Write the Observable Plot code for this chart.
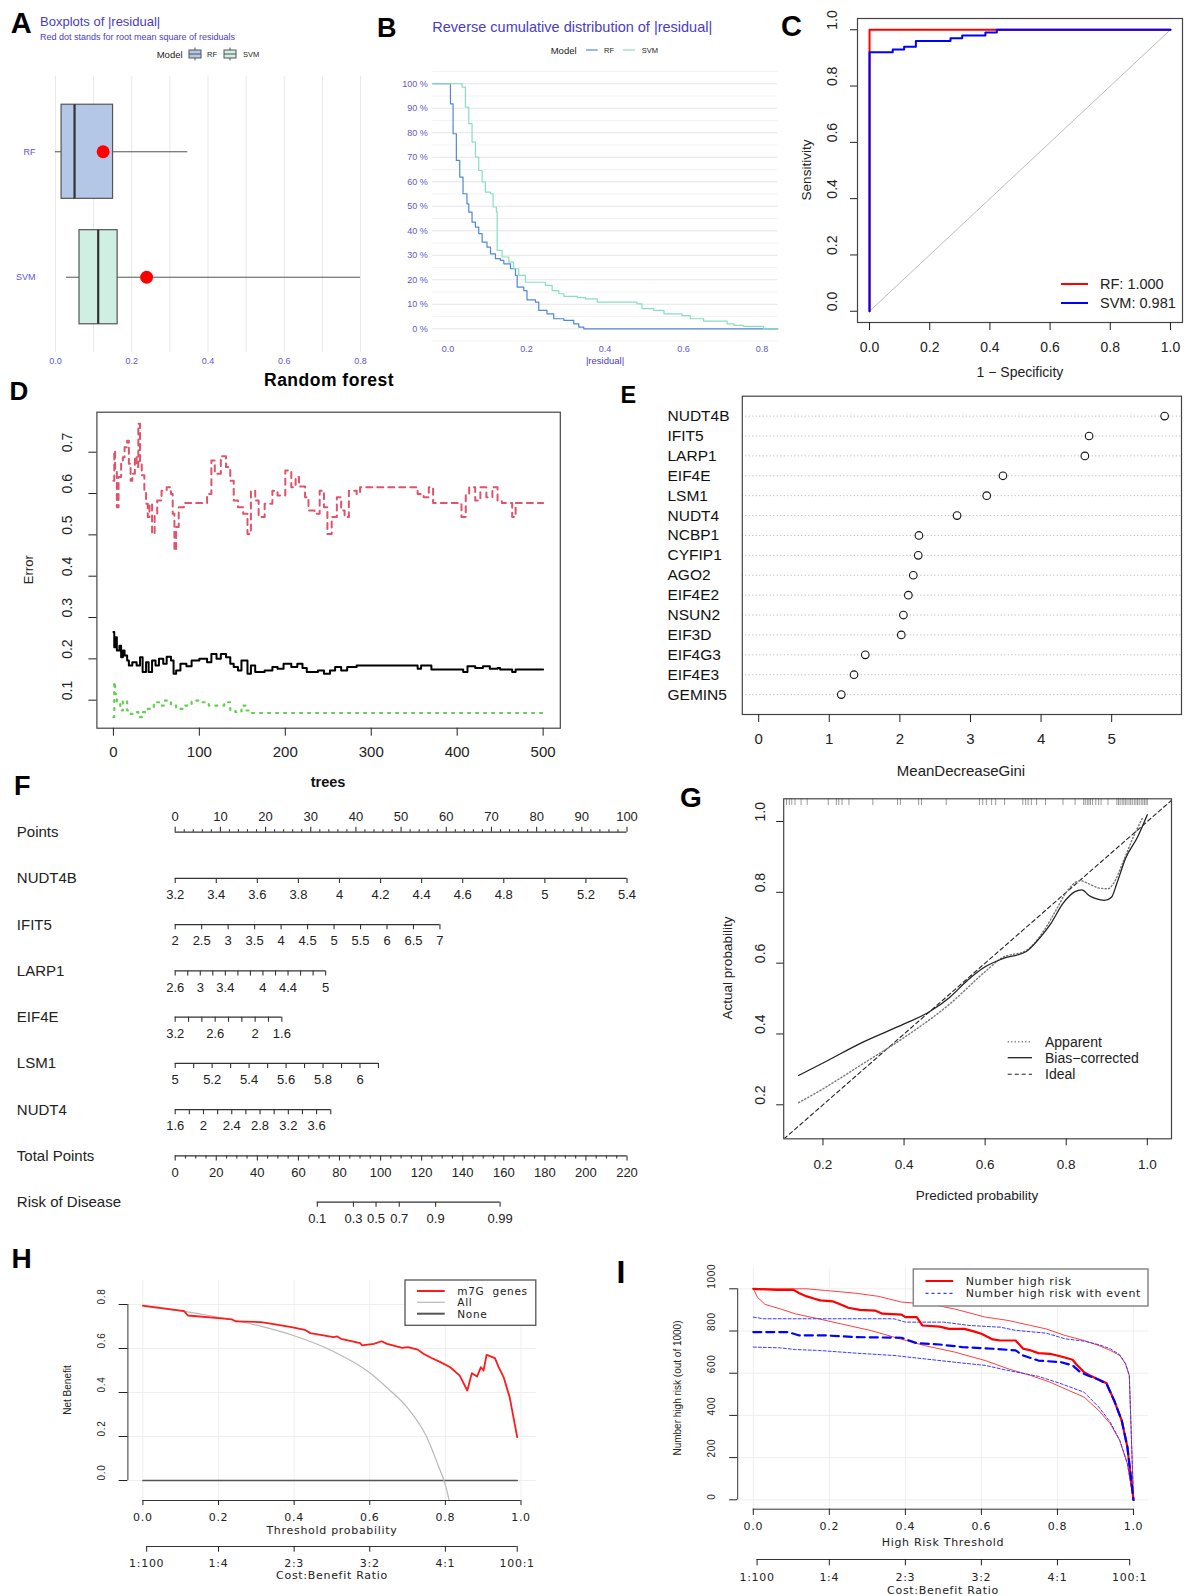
<!DOCTYPE html>
<html><head><meta charset="utf-8">
<script src="https://cdn.jsdelivr.net/npm/d3@7"></script>
<script src="https://cdn.jsdelivr.net/npm/@observablehq/plot@0.6"></script>
<style>
body{margin:0;background:#fff;}
#root{position:relative;width:1185px;height:1596px;overflow:hidden;background:#fff;}
</style>
</head><body><div id="root"></div>
<script>
// ---------------- DATA ----------------
// A: boxplots of |residual|
const boxModels = ["RF", "SVM"];
const boxWhiskerLo = [0.0, 0.029];
const boxQ1 = [0.016, 0.063];
const boxMedian = [0.050, 0.112];
const boxQ3 = [0.151, 0.163];
const boxWhiskerHi = [0.347, 0.800];
const boxRMSE = [0.125, 0.239];
const boxFill = ["#b4c7e7", "#cfefe2"];
const residTicks = [0, 0.2, 0.4, 0.6, 0.8];
const residGrid = [0, 0.1, 0.2, 0.3, 0.4, 0.5, 0.6, 0.7, 0.8];

// B: reverse cumulative distribution
const rfResid = [-0.039, 0, 0.006, 0.0127, 0.021, 0.0297, 0.038, 0.048, 0.0527, 0.061, 0.0696, 0.078, 0.0867, 0.099, 0.108, 0.1206, 0.133, 0.142, 0.159, 0.1716, 0.176, 0.1928, 0.201, 0.2225, 0.231, 0.252, 0.269, 0.295, 0.32, 0.333, 0.3457, 0.84];
const rfPct = [100, 100, 91.8, 79.6, 68.7, 61.9, 55.1, 51, 47.6, 43.5, 41.5, 38.8, 35.4, 33.3, 30.6, 28.6, 27.9, 26.5, 24.5, 21.8, 17, 15.6, 11.8, 10.9, 7.5, 6.1, 4.1, 3.4, 2.0, 0.7, 0, 0];
const svmResid = [-0.039, 0.032, 0.0357, 0.044, 0.0527, 0.061, 0.0696, 0.078, 0.0867, 0.095, 0.108, 0.1147, 0.123, 0.125, 0.1376, 0.1546, 0.167, 0.18, 0.197, 0.235, 0.248, 0.265, 0.282, 0.295, 0.329, 0.35, 0.38, 0.456, 0.4815, 0.494, 0.524, 0.55, 0.596, 0.617, 0.651, 0.711, 0.728, 0.753, 0.804, 0.84];
const svmPct = [100, 100, 98.6, 90.5, 83.7, 76.2, 70.1, 64.6, 59.9, 55.8, 55.1, 49.7, 47.6, 32, 29.3, 27.2, 24.5, 21.8, 19, 19, 17.7, 15.6, 14.3, 13.2, 12.7, 12.2, 10.9, 10.9, 10.2, 8.2, 7.5, 6.1, 5.4, 4.1, 3.1, 2.0, 1.4, 1.0, 0, 0];
const pctMajor = [0, 10, 20, 30, 40, 50, 60, 70, 80, 90, 100];
const pctMinor = [-5, 5, 15, 25, 35, 45, 55, 65, 75, 85, 95, 105];

// C: ROC
const rocRFfpr = [0, 0, 1];
const rocRFtpr = [0, 1, 1];
const rocSVMfpr = [0, 0, 0.077, 0.115, 0.154, 0.269, 0.308, 0.385, 0.423, 1];
const rocSVMtpr = [0, 0.92, 0.93, 0.94, 0.96, 0.97, 0.98, 0.99, 1, 1];
const unitTicks = [0, 0.2, 0.4, 0.6, 0.8, 1.0];
const rocLegend = ["RF: 1.000", "SVM: 0.981"];

// D: random forest error
const oobTrees = [0,1,2,4,7,9,11,13,16,18,22,27,31,34,38,41,45,49,53,58,62,67,70,73,78,85,91,100,109,114,120,125,131,136,140,145,149,156,160,165,176,185,191,198,207,214,220,225,238,245,252,258,265,272,283,350,354,358,370,405,407,412,421,430,438,447,450,461,464,468,500];
const oobErr = [0.265,0.228,0.252,0.22,0.232,0.204,0.22,0.208,0.196,0.184,0.192,0.184,0.204,0.168,0.192,0.168,0.196,0.184,0.2,0.188,0.205,0.196,0.164,0.172,0.188,0.182,0.196,0.2,0.192,0.212,0.2,0.212,0.204,0.188,0.18,0.172,0.196,0.164,0.184,0.168,0.172,0.18,0.176,0.188,0.18,0.188,0.178,0.168,0.172,0.164,0.172,0.18,0.172,0.18,0.184,0.184,0.176,0.184,0.174,0.174,0.168,0.182,0.178,0.182,0.176,0.178,0.174,0.174,0.168,0.174,0.174];
const c1Trees = [0,1,2,4,6,9,11,13,16,18,20,22,25,27,29,31,33,36,38,40,42,45,48,51,56,62,67,69,71,73,76,82,100,109,114,118,125,131,136,140,145,151,156,160,165,169,176,185,191,200,207,212,216,223,227,234,240,245,249,254,260,265,269,274,283,287,350,354,361,367,372,403,405,410,414,421,427,434,441,447,452,461,464,468,500];
const c1Err = [0.631,0.704,0.656,0.567,0.64,0.68,0.688,0.712,0.728,0.672,0.631,0.648,0.69,0.664,0.769,0.672,0.644,0.607,0.575,0.543,0.575,0.502,0.551,0.583,0.607,0.615,0.599,0.551,0.462,0.519,0.567,0.577,0.577,0.599,0.68,0.648,0.69,0.664,0.631,0.583,0.567,0.551,0.502,0.607,0.583,0.543,0.575,0.607,0.595,0.656,0.615,0.64,0.617,0.591,0.559,0.551,0.607,0.567,0.502,0.543,0.591,0.559,0.543,0.607,0.599,0.615,0.615,0.599,0.591,0.615,0.577,0.577,0.543,0.599,0.615,0.583,0.615,0.591,0.615,0.583,0.577,0.577,0.543,0.577,0.577];
const c2Trees = [0,1,2,4,8,11,16,20,25,29,33,40,47,53,60,67,73,82,91,100,111,122,129,136,142,149,154,158,500];
const c2Err = [0.059,0.144,0.115,0.091,0.075,0.099,0.075,0.067,0.071,0.059,0.071,0.079,0.095,0.087,0.099,0.087,0.079,0.087,0.099,0.095,0.087,0.087,0.095,0.075,0.071,0.087,0.075,0.069,0.069];
const treeTicks = [0, 100, 200, 300, 400, 500];
const errTicks = [0.1, 0.2, 0.3, 0.4, 0.5, 0.6, 0.7];

// E: MeanDecreaseGini
const genes = ["NUDT4B","IFIT5","LARP1","EIF4E","LSM1","NUDT4","NCBP1","CYFIP1","AGO2","EIF4E2","NSUN2","EIF3D","EIF4G3","EIF4E3","GEMIN5"];
const gini = [5.75, 4.68, 4.62, 3.46, 3.23, 2.81, 2.27, 2.26, 2.19, 2.12, 2.05, 2.02, 1.51, 1.35, 1.17];
const giniTicks = [0, 1, 2, 3, 4, 5];

// F: nomogram
const nomoRows = ["Points","NUDT4B","IFIT5","LARP1","EIF4E","LSM1","NUDT4","Total Points","Risk of Disease"];
const pointsTicks = d3.range(0, 101, 2);
const pointsLabels = [0,10,20,30,40,50,60,70,80,90,100];
const nudt4bTicks = [3.2,3.4,3.6,3.8,4,4.2,4.4,4.6,4.8,5,5.2,5.4];
const nudt4bLabels = [3.2,3.4,3.6,3.8,4,4.2,4.4,4.6,4.8,5,5.2,5.4];
const ifit5Ticks = [2,2.5,3,3.5,4,4.5,5,5.5,6,6.5,7];
const ifit5Labels = [2,2.5,3,3.5,4,4.5,5,5.5,6,6.5,7];
const larp1Ticks = [2.6,2.8,3,3.2,3.4,3.6,3.8,4,4.2,4.4,4.6,4.8,5];
const larp1Labels = [2.6,3,3.4,4,4.4,5];
const eif4eTicks = [3.2,3,2.8,2.6,2.4,2.2,2,1.8,1.6];
const eif4eLabels = [3.2,2.6,2,1.6];
const lsm1Ticks = [5,5.1,5.2,5.3,5.4,5.5,5.6,5.7,5.8,5.9,6,6.1];
const lsm1Labels = [5,5.2,5.4,5.6,5.8,6];
const nudt4Ticks = [1.6,1.8,2,2.2,2.4,2.6,2.8,3,3.2,3.4,3.6,3.8];
const nudt4Labels = [1.6,2,2.4,2.8,3.2,3.6];
// value at 0 points, a reference value, and the points at that reference value
const nomoV0 = [3.2, 2, 2.6, 3.2, 5, 1.6];
const nomoV1 = [5.4, 7, 5, 1.6, 6, 3.6];
const nomoP1 = [100, 58.6, 33.3, 23.6, 40.9, 31.3];
const totalTicks = d3.range(0, 221, 5);
const totalLabels = [0,20,40,60,80,100,120,140,160,180,200,220];
const totalMax = 220;
const riskProbs = ["0.1","0.3","0.5","0.7","0.9","0.99"];
const riskTotals = [69.2, 86.8, 97.8, 109.1, 126.8, 158.2];

// G: calibration
const calBiasX = [0.14,0.2,0.2986,0.4015,0.4615,0.513,0.556,0.599,0.6416,0.7016,0.736,0.7616,0.7916,0.8216,0.8389,0.856,0.873,0.8945,0.9117,0.9245,0.946,0.976,1.0];
const calBiasY = [0.283,0.318,0.377,0.429,0.462,0.504,0.551,0.589,0.612,0.633,0.673,0.711,0.768,0.802,0.807,0.791,0.782,0.777,0.786,0.824,0.895,0.956,1.019];
const calAppX = [0.14,0.2,0.2986,0.4015,0.513,0.599,0.6416,0.7016,0.745,0.7745,0.8,0.8345,0.856,0.8817,0.903,0.916,0.9417,0.967,0.989];
const calAppY = [0.206,0.245,0.316,0.391,0.485,0.575,0.615,0.636,0.692,0.749,0.80,0.833,0.824,0.812,0.81,0.824,0.89,0.96,1.012];
const calRug = [0.110,0.117,0.123,0.131,0.146,0.161,0.213,0.233,0.239,0.247,0.264,0.323,0.384,0.391,0.436,0.443,0.504,0.586,0.594,0.603,0.616,0.626,0.648,0.693,0.700,0.706,0.714,0.727,0.749,0.792,0.822,0.843,0.847,0.852,0.856,0.860,0.865,0.873,0.880,0.886,0.903,0.925,0.929,0.933,0.938,0.942,0.946,0.950,0.955,0.959,0.963,0.968,0.972,0.976,0.980,0.985,0.989,0.993,0.997,1.0];
const probTicks = [0.2, 0.4, 0.6, 0.8, 1.0];
const calLegend = ["Apparent", "Bias\u2212corrected", "Ideal"];

// H: decision curve
const m7gT = [0,0.109,0.119,0.2,0.236,0.246,0.312,0.342,0.393,0.428,0.443,0.504,0.514,0.524,0.575,0.58,0.595,0.611,0.631,0.646,0.686,0.701,0.727,0.742,0.762,0.787,0.813,0.838,0.858,0.870,0.884,0.894,0.901,0.909,0.931,0.941,0.954,0.970,0.99];
const m7gNB = [0.795,0.770,0.750,0.738,0.732,0.723,0.720,0.712,0.697,0.685,0.670,0.652,0.655,0.644,0.624,0.614,0.618,0.621,0.633,0.621,0.603,0.606,0.595,0.576,0.558,0.538,0.515,0.477,0.409,0.488,0.473,0.515,0.5,0.571,0.556,0.515,0.470,0.379,0.197];
const allT = [0,0.1,0.2,0.3,0.4,0.5,0.6,0.65,0.7,0.75,0.78,0.8,0.81];
const allNB = [0.793,0.771,0.742,0.706,0.658,0.590,0.490,0.415,0.33,0.2,0.073,-0.02,-0.09];
const noneT = [0, 0.99];
const noneNB = [0, 0];
const thrTicks = [0, 0.2, 0.4, 0.6, 0.8, 1.0];
const nbTicks = [0, 0.2, 0.4, 0.6, 0.8];
const cbT = [0.01, 0.2, 0.4, 0.6, 0.8, 0.99];
const cbLab = ["1:100", "1:4", "2:3", "3:2", "4:1", "100:1"];
const dcaLegend = ["m7G  genes", "All", "None"];

// I: clinical impact
const nhrT = [0,0.061,0.106,0.121,0.141,0.161,0.176,0.21,0.23,0.25,0.28,0.32,0.34,0.39,0.4,0.43,0.445,0.49,0.515,0.555,0.58,0.6,0.63,0.65,0.69,0.71,0.73,0.75,0.78,0.81,0.84,0.85,0.87,0.89,0.909,0.929,0.949,0.969,0.984,1.0];
const nhr = [1000,995,995,979,964,953,945,940,926,910,900,897,882,878,866,866,826,821,810,810,798,787,760,755,755,716,708,695,692,679,664,641,605,585,569,553,471,376,250,0];
const nhrHiT = [0,0.141,0.19,0.27,0.33,0.39,0.47,0.53,0.61,0.67,0.73,0.77,0.82,0.87,0.909,0.939,0.964,0.979,0.989,1.0];
const nhrHi = [1000,1000,992,979,964,937,926,904,866,850,826,810,779,755,731,708,684,645,589,0];
const nhrLoT = [0,0.011,0.031,0.071,0.111,0.171,0.23,0.31,0.37,0.45,0.53,0.61,0.67,0.73,0.78,0.83,0.87,0.909,0.939,0.964,0.984,1.0];
const nhrLo = [1000,960,926,905,881,858,834,802,771,731,700,660,621,589,558,518,487,423,360,281,171,0];
const evT = [0,0.091,0.121,0.19,0.27,0.39,0.43,0.49,0.55,0.63,0.69,0.71,0.75,0.81,0.84,0.86,0.88,0.909,0.929,0.949,0.969,0.984,1.0];
const ev = [795,795,779,779,771,768,742,736,724,716,708,684,660,652,637,605,589,569,550,471,376,250,0];
const evHiT = [0,0.026,0.37,0.4,0.5,0.57,0.65,0.69,0.77,0.82,0.87,0.909,0.939,0.964,0.979,0.989,1.0];
const evHi = [866,858,858,842,842,826,818,803,790,763,752,735,716,687,645,589,0];
const evLoT = [0,0.071,0.111,0.171,0.27,0.37,0.45,0.53,0.61,0.67,0.75,0.81,0.87,0.909,0.939,0.964,0.984,1.0];
const evLo = [724,720,712,708,695,684,668,652,637,613,585,550,510,439,368,281,171,0];
const nTicks = [0, 200, 400, 600, 800, 1000];
const cicLegend = ["Number high risk", "Number high risk with event"];

// ---------------- HELPERS ----------------
const FONT = "'Liberation Sans', Arial, Helvetica, sans-serif";
const WIDE = "'DejaVu Sans', Verdana, sans-serif";
const PURPLE = "#4a3dc4", PURPLE_T = "#6356cf";
const RF_LINE = "#5288d4", SVM_LINE = "#86e0c0";
const root = document.getElementById("root");
const zipXY = (xs, ys) => xs.map((x, i) => ({x, y: ys[i]}));
const f1 = d3.format(".1f");
const fInt = d3.format("d");
function place(svg, left, top) {
  svg.style.position = "absolute";
  svg.style.left = left + "px";
  svg.style.top = top + "px";
  svg.style.overflow = "visible";
  svg.style.background = "transparent";
  root.appendChild(svg);
  return svg;
}

// ---------------- PANEL A ----------------
const A_rows = boxModels.map((m, i) => ({model: m, idx: i + 1, lo: boxWhiskerLo[i], q1: boxQ1[i], med: boxMedian[i], q3: boxQ3[i], hi: boxWhiskerHi[i], rmse: boxRMSE[i], fill: boxFill[i]}));
const boxHalf = 0.375;
place(Plot.plot({
  width: 380, height: 320, marginLeft: 40, marginRight: 5, marginTop: 16, marginBottom: 28,
  style: {fontFamily: FONT, fontSize: "9px", color: PURPLE_T},
  color: {type: "identity"},
  x: {domain: [-0.0393, 0.8393]},
  y: {domain: [0.4, 2.6], reverse: true},
  marks: [
    Plot.ruleX(residGrid, {stroke: "#e9e9e9", strokeWidth: 1}),
    Plot.ruleY(A_rows, {y: "idx", x1: "lo", x2: "hi", stroke: "#555", strokeWidth: 1}),
    Plot.rect(A_rows, {x1: "q1", x2: "q3", y1: d => d.idx - boxHalf, y2: d => d.idx + boxHalf, fill: d => d.fill, stroke: "#555", strokeWidth: 1.2}),
    Plot.ruleX(A_rows, {x: "med", y1: d => d.idx - boxHalf, y2: d => d.idx + boxHalf, stroke: "#333", strokeWidth: 2.2}),
    Plot.dot(A_rows, {x: "rmse", y: "idx", r: 6.5, fill: "#ff0000"}),
    Plot.axisX({ticks: residTicks, tickSize: 0, tickPadding: 5, tickFormat: f1, label: null}),
    Plot.axisY({ticks: [1, 2], tickSize: 0, tickPadding: 5, tickFormat: i => boxModels[i - 1], label: null})
  ]
}), 0, 60);

// ---------------- PANEL B ----------------
place(Plot.plot({
  width: 415, height: 310, marginLeft: 62.3, marginRight: 7.7, marginTop: 11, marginBottom: 30,
  style: {fontFamily: FONT, fontSize: "9px", color: PURPLE_T},
  x: {domain: [-0.039, 0.84]},
  y: {domain: [-4.78, 105]},
  marks: [
    Plot.ruleY(pctMinor, {stroke: "#f2f2f2"}),
    Plot.ruleY(pctMajor, {stroke: "#e5e5e5"}),
    Plot.line(zipXY(rfResid, rfPct), {x: "x", y: "y", stroke: RF_LINE, strokeWidth: 1.2, curve: "step-after"}),
    Plot.line(zipXY(svmResid, svmPct), {x: "x", y: "y", stroke: SVM_LINE, strokeWidth: 1.2, curve: "step-after"}),
    Plot.axisX({ticks: residTicks, tickSize: 0, tickPadding: 4.8, tickFormat: f1, label: null}),
    Plot.axisY({ticks: pctMajor, tickSize: 0, tickPadding: 5, tickFormat: d => d + " %", label: null})
  ]
}), 370, 60);

// ---------------- PANEL C ----------------
place(Plot.plot({
  width: 415, height: 380, marginLeft: 87, marginRight: 3, marginTop: 18, marginBottom: 58,
  style: {fontFamily: FONT, fontSize: "14px", color: "#222"},
  x: {domain: [-0.04, 1.04]}, y: {domain: [-0.04, 1.04]},
  marks: [
    Plot.line([0, 1], {x: d => d, y: d => d, stroke: "#bdbdbd", strokeWidth: 1}),
    Plot.line(zipXY(rocRFfpr, rocRFtpr), {x: "x", y: "y", stroke: "#ff0000", strokeWidth: 2}),
    Plot.line(zipXY(rocSVMfpr, rocSVMtpr), {x: "x", y: "y", stroke: "#0000ff", strokeWidth: 2, curve: "step-after"}),
    Plot.frame({stroke: "#444", strokeWidth: 1.2}),
    Plot.axisX({ticks: unitTicks, tickSize: 8, tickPadding: 12, tickFormat: f1, label: null}),
    Plot.axisY({ticks: unitTicks, tickSize: 7, tickFormat: () => "", label: null}),
    Plot.text(unitTicks, {y: d => d, text: d => f1(d), frameAnchor: "left", dx: -25.3, rotate: -90, fontSize: 14, fill: "#222"})
  ]
}), 770, 0);

// ---------------- PANEL D ----------------
place(Plot.plot({
  width: 600, height: 400, marginLeft: 96.4, marginRight: 40.2, marginTop: 31.7, marginBottom: 52.3,
  style: {fontFamily: FONT, fontSize: "15px", color: "#222"},
  x: {domain: [-19.2, 520]}, y: {domain: [0.0322, 0.7968]},
  marks: [
    Plot.line(zipXY(c2Trees, c2Err), {x: "x", y: "y", stroke: "#61D04F", strokeWidth: 2.2, strokeDasharray: "2,6", curve: "step-after"}),
    Plot.line(zipXY(c1Trees, c1Err), {x: "x", y: "y", stroke: "#DF536B", strokeWidth: 2, strokeDasharray: "6,5", curve: "step-after"}),
    Plot.line(zipXY(oobTrees, oobErr), {x: "x", y: "y", stroke: "#000", strokeWidth: 2, curve: "step-after"}),
    Plot.frame({stroke: "#444", strokeWidth: 1.2}),
    Plot.axisX({ticks: treeTicks, tickSize: 8, tickPadding: 9.9, tickFormat: fInt, label: null}),
    Plot.axisY({ticks: errTicks, tickSize: 8, tickFormat: () => "", label: null}),
    Plot.text(errTicks, {y: d => d, text: d => f1(d), frameAnchor: "left", dx: -29.4, rotate: -90, fontSize: 14, fill: "#222"})
  ]
}), 0, 380);

// ---------------- PANEL E ----------------
const E_rows = genes.map((g, i) => ({gene: g, gini: gini[i], rank: genes.length - i}));
place(Plot.plot({
  width: 585, height: 400, marginLeft: 141.8, marginRight: 4, marginTop: 15.7, marginBottom: 66,
  style: {fontFamily: FONT, fontSize: "15px", color: "#222"},
  x: {domain: [-0.232, 5.989]}, y: {domain: [0, 16], axis: null},
  marks: [
    Plot.ruleY(E_rows, {y: "rank", stroke: "#b0b0b0", strokeDasharray: "1,2.5"}),
    Plot.dot(E_rows, {x: "gini", y: "rank", r: 3.8, stroke: "#111", fill: "white", strokeWidth: 1.1}),
    Plot.text(E_rows, {y: "rank", text: "gene", frameAnchor: "left", dx: -74.8, textAnchor: "start", fontSize: 15.5, fill: "#111"}),
    Plot.frame({stroke: "#444", strokeWidth: 1.2}),
    Plot.axisX({ticks: giniTicks, tickSize: 8, tickPadding: 10.6, tickFormat: fInt, label: null})
  ]
}), 600, 380);

// ---------------- PANEL F (nomogram) ----------------
const rowPx = 46.25;
const F_lines = [], F_ticks = [], F_below = [], F_above = [];
function nomoRow(row, ticks, labels, toPts, dir, majorLen, minorLen) {
  const pos = ticks.map(toPts);
  F_lines.push({row, a: d3.min(pos), b: d3.max(pos)});
  const labSet = new Set(labels.map(String));
  ticks.forEach(v => F_ticks.push({row, pos: toPts(v), len: dir * (labSet.has(String(v)) ? majorLen : minorLen) / rowPx}));
  labels.forEach(v => (dir < 0 ? F_above : F_below).push({row, pos: toPts(v), text: String(v)}));
}
nomoRow(0, pointsTicks, pointsLabels, v => v, -1, 5, 2.5);
const varTicks = [nudt4bTicks, ifit5Ticks, larp1Ticks, eif4eTicks, lsm1Ticks, nudt4Ticks];
const varLabels = [nudt4bLabels, ifit5Labels, larp1Labels, eif4eLabels, lsm1Labels, nudt4Labels];
varTicks.forEach((tk, k) => {
  const toPts = v => (v - nomoV0[k]) / (nomoV1[k] - nomoV0[k]) * nomoP1[k];
  nomoRow(k + 1, tk, varLabels[k], toPts, 1, 5, 5);
});
nomoRow(7, totalTicks, totalLabels, v => v / totalMax * 100, 1, 5, 3);
// risk row: ticks at the total points of each probability
F_lines.push({row: 8, a: riskTotals[0] / totalMax * 100, b: riskTotals[riskTotals.length - 1] / totalMax * 100});
riskTotals.forEach((t, i) => {
  F_ticks.push({row: 8, pos: t / totalMax * 100, len: 5 / rowPx});
  F_below.push({row: 8, pos: t / totalMax * 100, text: riskProbs[i]});
});
place(Plot.plot({
  width: 640, height: 440, marginLeft: 174.7, marginRight: 13.5, marginTop: 51.7, marginBottom: 18.3,
  style: {fontFamily: FONT, fontSize: "13px", color: "#222"},
  x: {domain: [0, 100], axis: null}, y: {domain: [0, 8], reverse: true, axis: null},
  marks: [
    Plot.ruleY(F_lines, {y: "row", x1: "a", x2: "b", stroke: "#333", strokeWidth: 1.2}),
    Plot.ruleX(F_ticks, {x: "pos", y1: "row", y2: d => d.row + d.len, stroke: "#333", strokeWidth: 1.1}),
    Plot.text(F_above, {x: "pos", y: "row", text: "text", dy: -15.7, fontSize: 13, fill: "#222"}),
    Plot.text(F_below, {x: "pos", y: "row", text: "text", dy: 16.5, fontSize: 13, fill: "#222"}),
    Plot.text(nomoRows.map((n, i) => ({n, i})), {y: "i", text: "n", frameAnchor: "left", dx: -158.4, textAnchor: "start", fontSize: 15, fill: "#222"})
  ]
}), 0, 780);

// ---------------- PANEL G ----------------
const yDomG = [0.104, 1.0641];
place(Plot.plot({
  width: 545, height: 430, marginLeft: 143.2, marginRight: 14, marginTop: 28.3, marginBottom: 61.7,
  style: {fontFamily: FONT, fontSize: "13.5px", color: "#222"},
  x: {domain: [0.1031, 1.0597]}, y: {domain: yDomG},
  marks: [
    Plot.line([0, 1.2], {x: d => d, y: d => d, stroke: "#222", strokeWidth: 1.1, strokeDasharray: "4,3", clip: true}),
    Plot.line(zipXY(calAppX, calAppY), {x: "x", y: "y", stroke: "#777", strokeWidth: 1.4, strokeDasharray: "1.2,2.3", curve: "monotone-x"}),
    Plot.line(zipXY(calBiasX, calBiasY), {x: "x", y: "y", stroke: "#222", strokeWidth: 1.3, curve: "monotone-x"}),
    Plot.ruleX(calRug, {x: d => d, y1: yDomG[1], y2: yDomG[1] - 0.019, stroke: "#999", strokeWidth: 1}),
    Plot.frame({stroke: "#444", strokeWidth: 1.2}),
    Plot.axisX({ticks: probTicks, tickSize: 7, tickPadding: 13.9, tickFormat: f1, label: null}),
    Plot.axisY({ticks: probTicks, tickSize: 7, tickFormat: () => "", label: null}),
    Plot.text(probTicks, {y: d => d, text: d => f1(d), frameAnchor: "left", dx: -23.3, rotate: -90, fontSize: 14, fill: "#222"})
  ]
}), 640, 770);

// ---------------- PANEL H ----------------
const xDomH = [-0.0397, 1.0405], yDomH = [-0.0909, 0.9091];
place(Plot.plot({
  width: 600, height: 376, marginLeft: 127.4, marginRight: 64.2, marginTop: 60, marginBottom: 96,
  style: {fontFamily: WIDE, fontSize: "11px", color: "#222", letterSpacing: "0.7px"},
  x: {domain: xDomH}, y: {domain: yDomH},
  marks: [
    Plot.ruleX(thrTicks, {stroke: "#efefef"}),
    Plot.ruleY(nbTicks, {stroke: "#efefef"}),
    Plot.line(zipXY(noneT, noneNB), {x: "x", y: "y", stroke: "#555", strokeWidth: 1.6}),
    Plot.line(zipXY(allT, allNB), {x: "x", y: "y", stroke: "#b8b8b8", strokeWidth: 1.2, curve: "monotone-x"}),
    Plot.line(zipXY(m7gT, m7gNB), {x: "x", y: "y", stroke: "#ff1a1a", strokeWidth: 1.8}),
    Plot.ruleX([xDomH[0]], {y1: nbTicks[0], y2: nbTicks[nbTicks.length - 1], stroke: "#333"}),
    Plot.ruleY([yDomH[0]], {x1: thrTicks[0], x2: thrTicks[thrTicks.length - 1], stroke: "#333"}),
    Plot.axisX({ticks: thrTicks, tickSize: 5, tickPadding: 7.8, tickFormat: f1, label: null}),
    Plot.axisY({ticks: nbTicks, tickSize: 8.8, tickFormat: () => "", label: null}),
    Plot.text(nbTicks, {y: d => d, text: d => f1(d), frameAnchor: "left", dx: -26, rotate: -90, fontSize: 10, fontFamily: FONT, fill: "#222"})
  ]
}), 0, 1220);
const cbMap = new Map(cbT.map((t, i) => [t, cbLab[i]]));
place(Plot.plot({
  width: 600, height: 50, marginLeft: 127.4, marginRight: 64.2, marginTop: 0, marginBottom: 40,
  style: {fontFamily: WIDE, fontSize: "11px", color: "#222", letterSpacing: "0.7px"},
  x: {domain: xDomH}, y: {domain: [0, 1], axis: null},
  marks: [
    Plot.ruleY([0], {x1: cbT[0], x2: cbT[cbT.length - 1], stroke: "#333"}),
    Plot.axisX({ticks: cbT, tickSize: 5.7, tickPadding: 6.7, tickFormat: d => cbMap.get(d), label: null})
  ]
}), 0, 1536);

// ---------------- PANEL I ----------------
const xDomI = [-0.041, 1.0395], yDomI = [-44.5, 1096.2];
place(Plot.plot({
  width: 595, height: 376, marginLeft: 147.2, marginRight: 37, marginTop: 48, marginBottom: 87.3,
  style: {fontFamily: WIDE, fontSize: "11px", color: "#222", letterSpacing: "0.7px"},
  x: {domain: xDomI}, y: {domain: yDomI},
  marks: [
    Plot.ruleX(thrTicks, {stroke: "#efefef"}),
    Plot.ruleY(nTicks, {stroke: "#efefef"}),
    Plot.line(zipXY(nhrHiT, nhrHi), {x: "x", y: "y", stroke: "#ff4040", strokeWidth: 1}),
    Plot.line(zipXY(nhrLoT, nhrLo), {x: "x", y: "y", stroke: "#ff4040", strokeWidth: 1}),
    Plot.line(zipXY(evHiT, evHi), {x: "x", y: "y", stroke: "#3a3aff", strokeWidth: 1, strokeDasharray: "3,2"}),
    Plot.line(zipXY(evLoT, evLo), {x: "x", y: "y", stroke: "#3a3aff", strokeWidth: 1, strokeDasharray: "3,2"}),
    Plot.line(zipXY(nhrT, nhr), {x: "x", y: "y", stroke: "#ff0000", strokeWidth: 2.2}),
    Plot.line(zipXY(evT, ev), {x: "x", y: "y", stroke: "#0000ff", strokeWidth: 2.2, strokeDasharray: "8,5"}),
    Plot.ruleX([xDomI[0]], {y1: nTicks[0], y2: nTicks[nTicks.length - 1], stroke: "#333"}),
    Plot.ruleY([yDomI[0]], {x1: thrTicks[0], x2: thrTicks[thrTicks.length - 1], stroke: "#333"}),
    Plot.axisX({ticks: thrTicks, tickSize: 6.3, tickPadding: 7.1, tickFormat: f1, label: null}),
    Plot.axisY({ticks: nTicks, tickSize: 8, tickFormat: () => "", label: null}),
    Plot.text(nTicks, {y: d => d, text: d => String(d), frameAnchor: "left", dx: -25.8, rotate: -90, fontSize: 10, fontFamily: FONT, fill: "#222"})
  ]
}), 590, 1220);
place(Plot.plot({
  width: 595, height: 50, marginLeft: 147.2, marginRight: 37, marginTop: 0, marginBottom: 40,
  style: {fontFamily: WIDE, fontSize: "11px", color: "#222", letterSpacing: "0.7px"},
  x: {domain: xDomI}, y: {domain: [0, 1], axis: null},
  marks: [
    Plot.ruleY([0], {x1: cbT[0], x2: cbT[cbT.length - 1], stroke: "#333"}),
    Plot.axisX({ticks: cbT, tickSize: 6.3, tickPadding: 7.8, tickFormat: d => cbMap.get(d), label: null})
  ]
}), 590, 1548.7);

// ---------------- OVERLAY: letters, titles, legends, axis titles ----------------
const ov = d3.create("svg").attr("width", 1185).attr("height", 1596)
  .style("position", "absolute").style("left", "0px").style("top", "0px").style("pointer-events", "none");
function t(x, y, s, o = {}) {
  const e = ov.append("text").attr("x", x).attr("y", y).text(s)
    .attr("font-family", o.family || FONT).attr("font-size", o.size || 12)
    .attr("fill", o.fill || "#111").attr("text-anchor", o.anchor || "start")
    .attr("dominant-baseline", o.baseline || "central");
  if (o.weight) e.attr("font-weight", o.weight);
  if (o.rotate) e.attr("transform", `rotate(${o.rotate},${x},${y})`);
  if (o.ls) e.attr("letter-spacing", o.ls);
  if (o.pre) e.style("white-space", "pre");
  return e;
}
function ln(x1, y1, x2, y2, stroke, w = 1, dash = null) {
  const e = ov.append("line").attr("x1", x1).attr("y1", y1).attr("x2", x2).attr("y2", y2)
    .attr("stroke", stroke).attr("stroke-width", w);
  if (dash) e.attr("stroke-dasharray", dash);
  return e;
}
const L = {family: FONT, weight: "bold", baseline: "alphabetic", fill: "#000"};
t(10.7, 33, "A", {...L, size: 29});
t(377, 37, "B", {...L, size: 27});
t(781, 36, "C", {...L, size: 29});
t(9.6, 400, "D", {...L, size: 26});
t(620.5, 403, "E", {...L, size: 23.5});
t(14, 795, "F", {...L, size: 27});
t(680, 806.7, "G", {...L, size: 28});
t(11.5, 1268, "H", {...L, size: 28});
t(616.5, 1283, "I", {...L, size: 32});

// A titles & legend
t(40, 21.7, "Boxplots of |residual|", {size: 13, fill: PURPLE});
t(40, 37.3, "Red dot stands for root mean square of residuals", {size: 9, fill: PURPLE});
t(156.7, 54, "Model", {size: 9.5, fill: "#222"});
[[189, boxFill[0], 207, boxModels[0]], [224, boxFill[1], 243, boxModels[1]]].forEach(([kx, fill, tx, lab]) => {
  ln(kx + 6, 47.5, kx + 6, 60.5, "#555", 1);
  ov.append("rect").attr("x", kx).attr("y", 50).attr("width", 12).attr("height", 8).attr("fill", fill).attr("stroke", "#555").attr("stroke-width", 1);
  ln(kx, 54, kx + 12, 54, "#555", 1);
  t(tx, 54, lab, {size: 7.5, fill: "#222"});
});

// B title & legend
t(432.3, 27.3, "Reverse cumulative distribution of |residual|", {size: 14.5, fill: PURPLE});
t(550.7, 50, "Model", {size: 9.5, fill: "#222"});
ln(586, 50, 597.7, 50, RF_LINE, 1.2);
t(604, 50, boxModels[0], {size: 7.5, fill: "#222"});
ln(623, 50, 635, 50, SVM_LINE, 1.2);
t(641.7, 50, boxModels[1], {size: 7.5, fill: "#222"});
t(605, 360, "|residual|", {size: 9.5, fill: PURPLE, anchor: "middle"});

// C
t(806, 170, "Sensitivity", {size: 13.5, anchor: "middle", rotate: -90, fill: "#222"});
t(1020, 372, "1 \u2212 Specificity", {size: 14, anchor: "middle", fill: "#222"});
ln(1061, 284, 1088, 284, "#ff0000", 2);
ln(1061, 303, 1088, 303, "#0000ff", 2);
t(1100, 284, rocLegend[0], {size: 14.5, fill: "#222"});
t(1100, 303, rocLegend[1], {size: 14.5, fill: "#222"});

// D
t(329, 380, "Random forest", {size: 17.5, weight: "bold", anchor: "middle", ls: "0.5px", fill: "#000"});
t(28.7, 569.7, "Error", {size: 13, anchor: "middle", rotate: -90, fill: "#222"});
t(328, 782, "trees", {size: 14.5, weight: "bold", anchor: "middle", fill: "#111"});

// E
t(961, 770, "MeanDecreaseGini", {size: 15, anchor: "middle", fill: "#222"});

// G
t(727, 968, "Actual probability", {size: 13.5, anchor: "middle", rotate: -90, fill: "#222"});
t(977, 1195, "Predicted probability", {size: 13.5, anchor: "middle", fill: "#222"});
ln(1007.7, 1041.7, 1032, 1041.7, "#777", 1.4, "1.2,2.3");
ln(1007.7, 1057.7, 1032, 1057.7, "#222", 1.3);
ln(1007.7, 1074.3, 1032, 1074.3, "#222", 1.1, "4,3");
t(1045, 1041.7, calLegend[0], {size: 14, fill: "#222"});
t(1045, 1057.7, calLegend[1], {size: 14, fill: "#222"});
t(1045, 1074.3, calLegend[2], {size: 14, fill: "#222"});

// H
t(67, 1390, "Net Benefit", {size: 10, anchor: "middle", rotate: -90, fill: "#222"});
t(332, 1530.7, "Threshold probability", {family: WIDE, size: 11, anchor: "middle", ls: "0.7px", fill: "#222"});
t(332, 1575, "Cost:Benefit Ratio", {family: WIDE, size: 11, anchor: "middle", ls: "0.7px", fill: "#222"});
ov.append("rect").attr("x", 405).attr("y", 1280).attr("width", 130.8).attr("height", 45.3).attr("fill", "white").attr("stroke", "#555").attr("stroke-width", 1.3);
ln(417, 1291, 444.7, 1291, "#ff1a1a", 2);
ln(417, 1302.3, 444.7, 1302.3, "#b8b8b8", 1.2);
ln(417, 1313.7, 444.7, 1313.7, "#555", 2);
dcaLegend.forEach((s, i) => t(457.3, [1291, 1302.3, 1313.7][i], s, {family: WIDE, size: 10.5, ls: "0.7px", pre: true, fill: "#222"}));

// I
t(677.3, 1388, "Number high risk (out of 1000)", {size: 10, anchor: "middle", rotate: -90, fill: "#222"});
t(943, 1542, "High Risk Threshold", {family: WIDE, size: 11, anchor: "middle", ls: "0.7px", fill: "#222"});
t(943, 1590, "Cost:Benefit Ratio", {family: WIDE, size: 11, anchor: "middle", ls: "0.7px", fill: "#222"});
ov.append("rect").attr("x", 913.3).attr("y", 1269).attr("width", 234.7).attr("height", 37).attr("fill", "white").attr("stroke", "#888").attr("stroke-width", 1.5);
ln(925.5, 1281, 953.2, 1281, "#ff0000", 2);
ln(925.5, 1293.3, 953.2, 1293.3, "#3a3aff", 1.2, "3,3");
t(965.7, 1281, cicLegend[0], {family: WIDE, size: 11, ls: "0.7px", fill: "#222"});
t(965.7, 1293.3, cicLegend[1], {family: WIDE, size: 11, ls: "0.7px", fill: "#222"});

root.appendChild(ov.node());
</script></body></html>
